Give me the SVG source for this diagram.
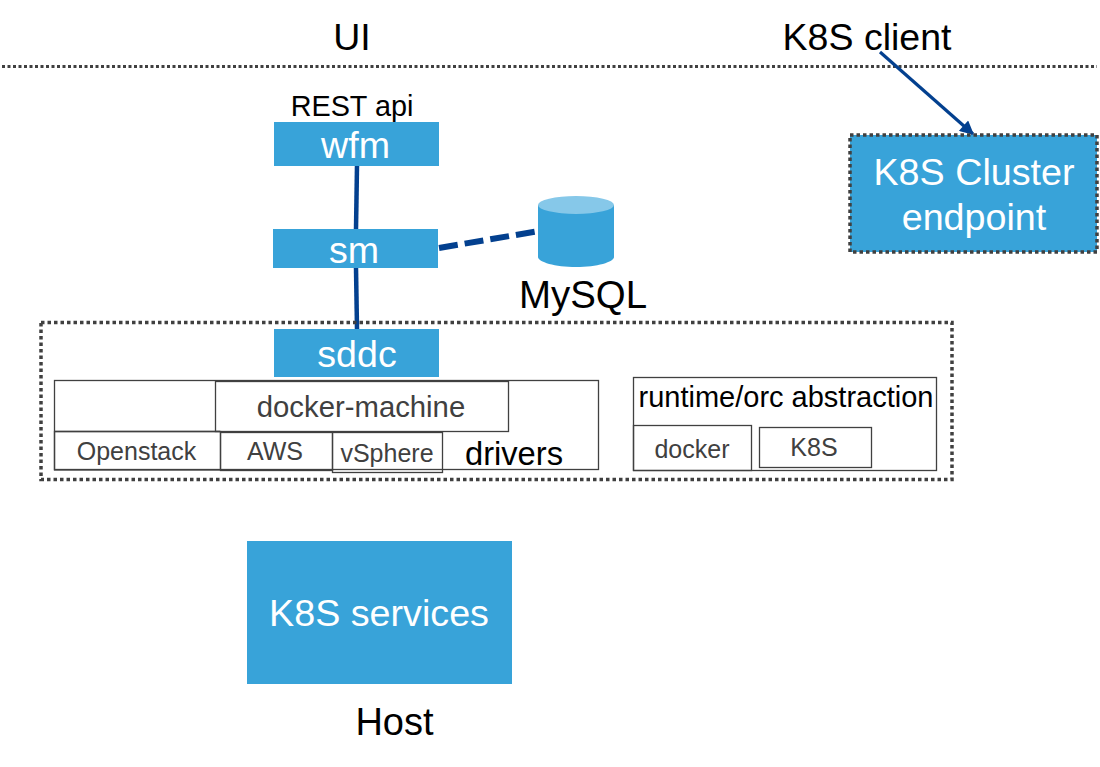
<svg xmlns="http://www.w3.org/2000/svg" width="1100" height="767" viewBox="0 0 1100 767">
<style>
text{font-family:"Liberation Sans",Arial,sans-serif;text-anchor:middle}
.b{fill:#38a3d9}
.w{fill:#fff}
.k{fill:#000}
.g{fill:#404040}
.o{fill:none;stroke:#404040;stroke-width:1.3}
.d{fill:none;stroke:#404040;stroke-width:3.500;stroke-dasharray:3.500 3}
.c{fill:none;stroke:#03408f;stroke-width:4.500}
.dash{fill:none;stroke:#03408f;stroke-width:6;stroke-dasharray:19 7}
.arrow{fill:none;stroke:#03408f;stroke-width:3.200}
</style>
<defs><marker id="a" viewBox="0 0 10 10" refX="9" refY="5" markerWidth="15" markerHeight="14" markerUnits="userSpaceOnUse" orient="auto"><path d="M0 0L10 5L0 10Z" fill="#03408f"/></marker></defs>
<rect width="1100" height="767" fill="#fff"/>
<g id="separator"><line x1="2" y1="66.500" x2="1097" y2="66.500" stroke="#404040" stroke-width="3" stroke-dasharray="3 2.500"/></g>
<g id="labels">
<text x="352" y="50" font-size="37.500" class="k">UI</text>
<text x="867" y="50" font-size="37.500" class="k">K8S client</text>
<text x="352" y="116" font-size="28.800" class="k">REST api</text>
<text x="583" y="308" font-size="38.400" class="k">MySQL</text>
<text x="394.500" y="735" font-size="38" class="k">Host</text>
</g>
<g id="connectors">
<line class="c" x1="357" y1="166" x2="356" y2="229"/>
<line class="c" x1="356" y1="268" x2="357" y2="329"/>
<line class="dash" x1="439" y1="248" x2="539" y2="231"/>
<line class="arrow" x1="880" y1="52" x2="973" y2="134" marker-end="url(#a)"/>
</g>
<g id="wfm"><rect class="b" x="274" y="122" width="165" height="44"/><text x="355.500" y="158" font-size="37.600" class="w">wfm</text></g>
<g id="sm"><rect class="b" x="273" y="229" width="165" height="39"/><text x="354" y="263" font-size="37.600" class="w">sm</text></g>
<g id="mysql"><path class="b" d="M538 205V257C538 262 555 267 576 267S614 262 614 257V205Z"/><ellipse cx="576" cy="205" rx="38" ry="9" fill="#86c8e9"/></g>
<g id="cluster"><rect class="b" x="850" y="135" width="247" height="117"/><rect class="d" x="850" y="135" width="247" height="117"/><text x="974" y="185" font-size="37.700" class="w">K8S Cluster</text><text x="974" y="230" font-size="37.700" class="w">endpoint</text></g>
<g id="outer"><rect class="d" x="41" y="322.500" width="911" height="157"/></g>
<g id="sddc"><rect class="b" x="274" y="329" width="165" height="48"/><text x="357" y="367" font-size="37.600" class="w">sddc</text></g>
<g id="drivers"><rect class="o" x="54.500" y="380.500" width="544" height="89"/><line class="o" x1="54" y1="431.500" x2="220" y2="431.500"/><text x="514" y="465" font-size="32.700" class="k">drivers</text></g>
<g id="docker-machine"><rect class="o" x="215.500" y="381.500" width="293" height="50"/><text x="361" y="417" font-size="29.300" class="g">docker-machine</text></g>
<g id="openstack"><rect class="o" x="54.500" y="431.500" width="166" height="38.500"/><text x="136.500" y="460" font-size="25" class="g">Openstack</text></g>
<g id="aws"><rect class="o" x="220.500" y="432.500" width="112" height="38"/><text x="275" y="460" font-size="25" class="g">AWS</text></g>
<g id="vsphere"><rect class="o" x="332.500" y="432.500" width="110" height="40"/><text x="387" y="462" font-size="25" class="g">vSphere</text></g>
<g id="runtime"><rect class="o" x="633.500" y="377.500" width="303" height="93"/><text x="786" y="407" font-size="29" class="k">runtime/orc abstraction</text></g>
<g id="docker"><rect class="o" x="633.500" y="425.500" width="118" height="45"/><text x="692" y="458" font-size="25" class="g">docker</text></g>
<g id="k8s"><rect class="o" x="759.500" y="427.500" width="112" height="40"/><text x="814" y="456" font-size="25" class="g">K8S</text></g>
<g id="services"><rect class="b" x="247" y="541" width="265" height="143"/><text x="379" y="626" font-size="37.700" class="w">K8S services</text></g>
</svg>
